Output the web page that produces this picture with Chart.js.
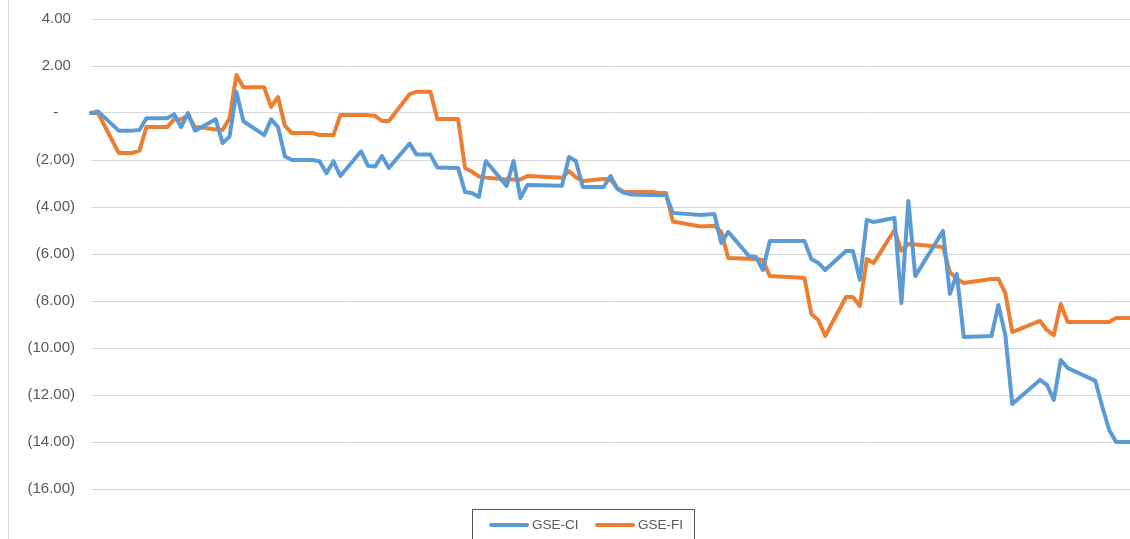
<!DOCTYPE html>
<html>
<head>
<meta charset="utf-8">
<script src="https://cdn.jsdelivr.net/npm/chart.js@4.4.1/dist/chart.umd.min.js"></script>
<style>
  html, body { margin: 0; padding: 0; background: #fff; }
  #wrap { position: relative; width: 1130px; height: 539px; overflow: hidden; }
  #frame { position: absolute; left: 8px; top: 0; width: 1px; height: 539px; background: #d9d9d9; }
  #legend { position: absolute; left: 472px; top: 509px; width: 221px; height: 40px;
    border: 1px solid #4f5863; font: 13.5px "Liberation Sans", Arial, sans-serif; color: #595959; }
  #legend .item { position: absolute; top: 7px; display: flex; align-items: center; }
  #legend .swatch { width: 40px; height: 4px; border-radius: 2px; margin-right: 3px; }
</style>
</head>
<body>
<div id="wrap">
  <canvas id="chart" width="1130" height="539"></canvas>
  <div id="frame"></div>
  <div id="legend"></div>
</div>
<script>
// period index along the date axis (gaps = missing dates)
const periods = [0, 1, 4, 6, 7, 8, 11, 12, 13, 14, 15, 16, 18, 19, 20, 21, 22, 25, 26, 27,
  28, 29, 32, 33, 34, 35, 36, 39, 40, 41, 42, 43, 46, 47, 49, 50, 53, 54, 55, 56,
  57, 60, 61, 62, 63, 68, 69, 70, 71, 74, 75, 76, 77, 78, 81, 82, 83, 84, 88, 90,
  91, 92, 95, 96, 97, 98, 102, 103, 104, 105, 106, 109, 110, 111, 112, 113, 116, 117, 118, 119,
  123, 124, 125, 126, 130, 131, 132, 133, 137, 138, 139, 140, 141, 145, 146, 147, 148, 150];

const gseCI = [0, 0.07, -0.75, -0.75, -0.72, -0.22, -0.22, -0.05, -0.6, 0.0, -0.75, -0.6, -0.27, -1.28, -1.0, 0.9, -0.35, -0.94, -0.27, -0.6,
  -1.85, -2.0, -2.0, -2.05, -2.56, -2.05, -2.68, -1.63, -2.25, -2.28, -1.83, -2.34, -1.3, -1.77, -1.77, -2.32, -2.34, -3.36, -3.4, -3.57,
  -2.04, -3.1, -2.04, -3.62, -3.06, -3.1, -1.87, -2.04, -3.15, -3.15, -2.68, -3.23, -3.4, -3.47, -3.49, -3.49, -3.49, -4.25, -4.34, -4.3,
  -5.53, -5.06, -6.09, -6.13, -6.68, -5.45, -5.45, -5.45, -6.21, -6.38, -6.68, -5.87, -5.87, -7.1, -4.55, -4.64, -4.47, -8.09, -3.74, -6.94,
  -5.02, -7.7, -6.85, -9.53, -9.49, -8.17, -9.45, -12.38, -11.36, -11.57, -12.21, -10.51, -10.85, -11.4, -12.5, -13.49, -14.0, -14.0];

const gseFI = [0, 0, -1.7, -1.7, -1.6, -0.6, -0.6, -0.27, -0.27, -0.09, -0.6, -0.62, -0.7, -0.72, -0.22, 1.62, 1.1, 1.1, 0.26, 0.68,
  -0.55, -0.85, -0.85, -0.94, -0.94, -0.94, -0.09, -0.09, -0.09, -0.12, -0.34, -0.34, 0.8, 0.9, 0.9, -0.26, -0.26, -2.34, -2.5, -2.7,
  -2.75, -2.83, -2.83, -2.83, -2.68, -2.76, -2.47, -2.73, -2.89, -2.81, -2.83, -3.2, -3.36, -3.36, -3.36, -3.4, -3.4, -4.62, -4.83, -4.8,
  -5.06, -6.17, -6.2, -6.22, -6.26, -6.94, -7.0, -7.02, -8.55, -8.81, -9.49, -7.83, -7.83, -8.21, -6.21, -6.38, -4.98, -5.87, -5.57, -5.6,
  -5.7, -6.77, -7.06, -7.23, -7.06, -7.06, -7.66, -9.32, -8.85, -9.23, -9.45, -8.13, -8.89, -8.89, -8.89, -8.89, -8.72, -8.72];

const seriesNames = ['GSE-CI', 'GSE-FI'];
const seriesColors = ['#5b9bd5', '#ed7d31'];
const yTicks = [4, 2, 0, -2, -4, -6, -8, -10, -12, -14, -16];

// accounting style: 2.00 / - / (2.00)
function fmt(v) {
  if (v === 0) return '-\u2007\u2007';
  if (v > 0) return v.toFixed(2) + '\u2008';
  return '(' + Math.abs(v).toFixed(2) + ')';
}

const datasets = [gseCI, gseFI].map((vals, i) => ({
  label: seriesNames[i],
  data: periods.map((p, k) => ({ x: p, y: vals[k] })),
  borderColor: seriesColors[i],
  backgroundColor: seriesColors[i],
  borderWidth: 4,
  pointRadius: 0,
  tension: 0,
  borderJoinStyle: 'round',
  borderCapStyle: 'round',
  clip: false
}));

const chart = new Chart(document.getElementById('chart'), {
  type: 'line',
  data: { datasets },
  options: {
    responsive: false,
    animation: false,
    layout: { padding: { left: 0, right: 0, top: 19, bottom: 50 } },
    plugins: { legend: { display: false }, tooltip: { enabled: false } },
    scales: {
      x: { type: 'linear', min: periods[0], max: periods[periods.length - 1], display: false },
      y: {
        min: yTicks[yTicks.length - 1], max: yTicks[0],
        afterBuildTicks: s => { s.ticks = yTicks.map(v => ({ value: v })); },
        afterFit: s => { s.width = 91; s.paddingTop = 0; s.paddingBottom = 0; },
        border: { display: false },
        grid: { color: '#d9d9d9', lineWidth: 1, drawTicks: false },
        ticks: {
          padding: 16,
          color: '#595959',
          font: { family: 'Liberation Sans', size: 15 },
          callback: v => fmt(v)
        }
      }
    }
  }
});

// legend built from the chart's datasets
const lg = document.getElementById('legend');
const lefts = [16, 122];
chart.data.datasets.forEach((ds, i) => {
  const it = document.createElement('div');
  it.className = 'item';
  it.style.left = lefts[i] + 'px';
  it.innerHTML = '<span class="swatch" style="background:' + ds.borderColor + '"></span>' + ds.label;
  lg.appendChild(it);
});
</script>
</body>
</html>
